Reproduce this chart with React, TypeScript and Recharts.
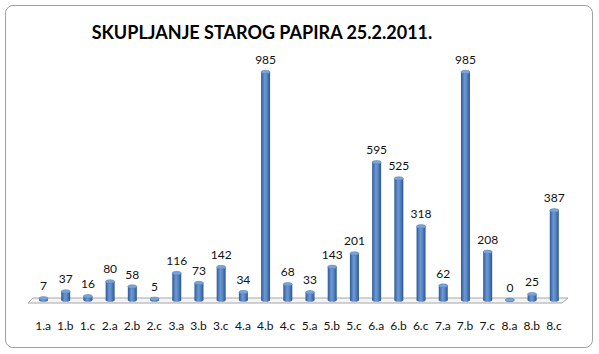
import { Bar, BarChart, LabelList, XAxis, YAxis } from "recharts";

const categories = ["1.a", "1.b", "1.c", "2.a", "2.b", "2.c", "3.a", "3.b", "3.c", "4.a", "4.b", "4.c", "5.a", "5.b", "5.c", "6.a", "6.b", "6.c", "7.a", "7.b", "7.c", "8.a", "8.b", "8.c"];
const kilograms = [7, 37, 16, 80, 58, 5, 116, 73, 142, 34, 985, 68, 33, 143, 201, 595, 525, 318, 62, 985, 208, 0, 25, 387];

const data = categories.map((name, i) => ({ name, kg: kilograms[i] }));

const W = 599;
const H = 354;
const margin = { top: 68.5, right: 34, bottom: 24, left: 32 };
const axisH = 30;
const baseY = H - margin.bottom - axisH;
const font = "Lato, 'Open Sans', sans-serif";

// cylinder look like the excel 3d column
function Cylinder(props: any) {
  const { x, y, width, height } = props;
  const cx = x + width / 2;
  const rx = width / 2;
  const ry = 1.8;
  return (
    <g>
      {height > 0 && <rect x={x} y={y} width={width} height={height} fill="url(#cyl)" />}
      <ellipse cx={cx} cy={y + height} rx={rx} ry={ry} fill="url(#cyl)" />
      <ellipse cx={cx} cy={y} rx={rx} ry={ry} fill="#7aa3d8" stroke="#4a78b5" strokeWidth={0.5} />
    </g>
  );
}

function Floor() {
  const l = margin.left;
  const r = W - margin.right;
  const pts = `${l + 1},${baseY - 2} ${r + 3},${baseY - 2} ${r - 3},${baseY + 3} ${l - 4},${baseY + 3}`;
  return <polygon points={pts} fill="#f4f4f4" stroke="#a6a6a6" strokeWidth={1} />;
}

function Tick(props: any) {
  const { x, y, payload } = props;
  return (
    <text x={x} y={y + 22} textAnchor="middle" fontSize={12} fontFamily={font} fill="#111">
      {payload.value}
    </text>
  );
}

export default function App() {
  return (
    <div style={{ position: "fixed", left: 0, top: 0, width: W, height: H, background: "#fff", overflow: "hidden" }}>
      <div
        style={{
          position: "absolute",
          left: 5,
          top: 5,
          width: 586,
          height: 341,
          border: "1px solid #a0a0a0",
          borderRadius: 8,
          background: "#fff",
        }}
      />
      <div
        style={{
          position: "absolute",
          left: 0,
          top: 21,
          width: 524,
          textAlign: "center",
          fontFamily: font,
          fontWeight: 700,
          fontSize: 18,
          color: "#000",
          whiteSpace: "nowrap",
        }}
      >
        SKUPLJANJE STAROG PAPIRA 25.2.2011.
      </div>
      <div style={{ position: "absolute", left: 0, top: 0 }}>
        <BarChart width={W} height={H} data={data} margin={margin}>
          <defs>
            <linearGradient id="cyl" x1="0" y1="0" x2="1" y2="0">
              <stop offset="0%" stopColor="#2c5a96" />
              <stop offset="40%" stopColor="#6b98d3" />
              <stop offset="60%" stopColor="#5e8cc9" />
              <stop offset="100%" stopColor="#2b5690" />
            </linearGradient>
          </defs>
          <Floor />
          <XAxis dataKey="name" axisLine={false} tickLine={false} height={axisH} tick={<Tick />} interval={0} />
          <YAxis hide domain={[0, 1000]} />
          <Bar dataKey="kg" barSize={9} shape={<Cylinder />} isAnimationActive={false}>
            <LabelList dataKey="kg" position="top" offset={8} fontSize={12} fontFamily={font} fill="#111" />
          </Bar>
        </BarChart>
      </div>
    </div>
  );
}
